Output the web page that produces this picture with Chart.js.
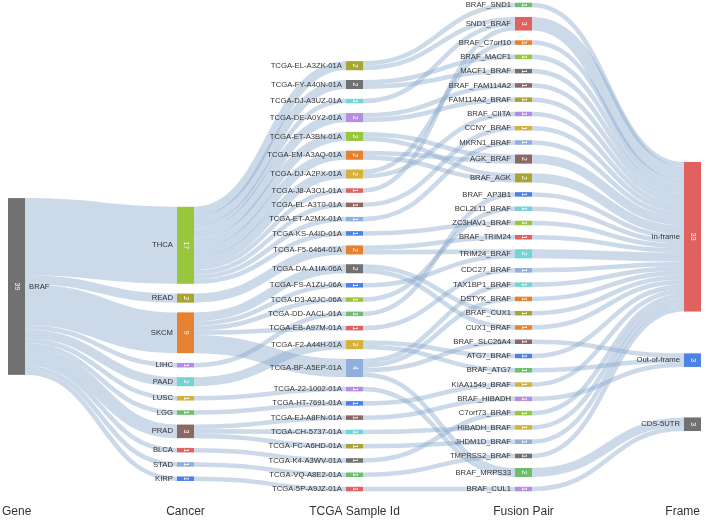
<!DOCTYPE html>
<html>
<head>
<meta charset="utf-8">
<script src="https://cdn.jsdelivr.net/npm/chart.js@4.4.1/dist/chart.umd.min.js"></script>
<style>
  html, body { margin: 0; padding: 0; background: #fff; }
  #wrap { width: 708px; height: 521px; position: relative; }
</style>
</head>
<body>
<div id="wrap"><canvas id="sankey"></canvas></div>
<script>
// colonnes du diagramme
const columnTitles = ['Gene', 'Cancer', 'TCGA Sample Id', 'Fusion Pair', 'Frame'];

const genes = ['BRAF'];
const cancers = ['THCA', 'READ', 'SKCM', 'LIHC', 'PAAD', 'LUSC', 'LGG', 'PRAD', 'BLCA', 'STAD', 'KIRP'];
const cancerCounts = [17, 2, 9, 1, 2, 1, 1, 3, 1, 1, 1];

const samples = [
  'TCGA-EL-A3ZK-01A', 'TCGA-FY-A40N-01A', 'TCGA-DJ-A3UZ-01A', 'TCGA-DE-A0Y2-01A', 'TCGA-ET-A3BN-01A',
  'TCGA-EM-A3AQ-01A', 'TCGA-DJ-A2PX-01A', 'TCGA-J8-A3O1-01A', 'TCGA-EL-A3T0-01A', 'TCGA-ET-A2MX-01A',
  'TCGA-KS-A4ID-01A', 'TCGA-F5-6464-01A', 'TCGA-DA-A1IA-06A', 'TCGA-FS-A1ZU-06A', 'TCGA-D3-A2JC-06A',
  'TCGA-DD-AACL-01A', 'TCGA-EB-A97M-01A', 'TCGA-F2-A44H-01A', 'TCGA-BF-A5EP-01A', 'TCGA-22-1002-01A',
  'TCGA-HT-7691-01A', 'TCGA-EJ-A8FN-01A', 'TCGA-CH-5737-01A', 'TCGA-FC-A6HD-01A', 'TCGA-K4-A3WV-01A',
  'TCGA-VQ-A8E2-01A', 'TCGA-5P-A9JZ-01A'
];
const sampleCancer = [
  'THCA', 'THCA', 'THCA', 'THCA', 'THCA', 'THCA', 'THCA', 'THCA', 'THCA', 'THCA', 'THCA',
  'READ', 'SKCM', 'SKCM', 'SKCM', 'LIHC', 'SKCM', 'PAAD', 'SKCM', 'LUSC', 'LGG',
  'PRAD', 'PRAD', 'PRAD', 'BLCA', 'STAD', 'KIRP'
];
const sampleCounts = [2, 2, 1, 2, 2, 2, 2, 1, 1, 1, 1, 2, 2, 1, 1, 1, 1, 2, 4, 1, 1, 1, 1, 1, 1, 1, 1];

const fusions = [
  'BRAF_SND1', 'SND1_BRAF', 'BRAF_C7orf10', 'BRAF_MACF1', 'MACF1_BRAF', 'BRAF_FAM114A2', 'FAM114A2_BRAF',
  'BRAF_CIITA', 'CCNY_BRAF', 'MKRN1_BRAF', 'AGK_BRAF', 'BRAF_AGK', 'BRAF_AP3B1', 'BCL2L11_BRAF',
  'ZC3HAV1_BRAF', 'BRAF_TRIM24', 'TRIM24_BRAF', 'CDC27_BRAF', 'TAX1BP1_BRAF', 'DSTYK_BRAF', 'BRAF_CUX1',
  'CUX1_BRAF', 'BRAF_SLC26A4', 'ATG7_BRAF', 'BRAF_ATG7', 'KIAA1549_BRAF', 'BRAF_HIBADH', 'C7orf73_BRAF',
  'HIBADH_BRAF', 'JHDM1D_BRAF', 'TMPRSS2_BRAF', 'BRAF_MRPS33', 'BRAF_CUL1'
];
const fusionFrame = [
  'In-frame', 'In-frame', 'In-frame', 'In-frame', 'In-frame', 'In-frame', 'In-frame',
  'In-frame', 'In-frame', 'In-frame', 'In-frame', 'In-frame', 'In-frame', 'In-frame',
  'In-frame', 'In-frame', 'In-frame', 'In-frame', 'In-frame', 'In-frame', 'In-frame',
  'In-frame', 'Out-of-frame', 'In-frame', 'Out-of-frame', 'In-frame', 'Out-of-frame', 'In-frame',
  'In-frame', 'In-frame', 'In-frame', 'CDS-5UTR', 'CDS-5UTR'
];
const fusionCounts = [1, 3, 1, 1, 1, 1, 1, 1, 1, 1, 2, 2, 1, 1, 1, 1, 2, 1, 1, 1, 1, 1, 1, 1, 1, 1, 1, 1, 1, 1, 1, 2, 1];

const frames = ['In-frame', 'Out-of-frame', 'CDS-5UTR'];

// echantillon -> fusion (valeur 1 chacun)
const sampleFusionFrom = [
  'TCGA-EL-A3ZK-01A', 'TCGA-EL-A3ZK-01A', 'TCGA-FY-A40N-01A', 'TCGA-FY-A40N-01A', 'TCGA-DJ-A3UZ-01A',
  'TCGA-DE-A0Y2-01A', 'TCGA-DE-A0Y2-01A', 'TCGA-ET-A3BN-01A', 'TCGA-ET-A3BN-01A', 'TCGA-EM-A3AQ-01A',
  'TCGA-EM-A3AQ-01A', 'TCGA-DJ-A2PX-01A', 'TCGA-DJ-A2PX-01A', 'TCGA-J8-A3O1-01A', 'TCGA-EL-A3T0-01A',
  'TCGA-ET-A2MX-01A', 'TCGA-KS-A4ID-01A', 'TCGA-F5-6464-01A', 'TCGA-F5-6464-01A', 'TCGA-DA-A1IA-06A',
  'TCGA-DA-A1IA-06A', 'TCGA-FS-A1ZU-06A', 'TCGA-D3-A2JC-06A', 'TCGA-DD-AACL-01A', 'TCGA-EB-A97M-01A',
  'TCGA-F2-A44H-01A', 'TCGA-F2-A44H-01A', 'TCGA-BF-A5EP-01A', 'TCGA-BF-A5EP-01A', 'TCGA-BF-A5EP-01A',
  'TCGA-BF-A5EP-01A', 'TCGA-22-1002-01A', 'TCGA-HT-7691-01A', 'TCGA-EJ-A8FN-01A', 'TCGA-CH-5737-01A',
  'TCGA-FC-A6HD-01A', 'TCGA-K4-A3WV-01A', 'TCGA-VQ-A8E2-01A', 'TCGA-5P-A9JZ-01A'
];
const sampleFusionTo = [
  'BRAF_SND1', 'SND1_BRAF', 'BRAF_MACF1', 'MACF1_BRAF', 'SND1_BRAF',
  'BRAF_FAM114A2', 'FAM114A2_BRAF', 'AGK_BRAF', 'BRAF_AGK', 'AGK_BRAF',
  'BRAF_AGK', 'BRAF_C7orf10', 'BRAF_CIITA', 'SND1_BRAF', 'CCNY_BRAF',
  'MKRN1_BRAF', 'ZC3HAV1_BRAF', 'BRAF_TRIM24', 'TRIM24_BRAF', 'BRAF_CUX1',
  'CUX1_BRAF', 'TRIM24_BRAF', 'BCL2L11_BRAF', 'BRAF_AP3B1', 'CDC27_BRAF',
  'ATG7_BRAF', 'BRAF_ATG7', 'TAX1BP1_BRAF', 'DSTYK_BRAF', 'BRAF_SLC26A4',
  'BRAF_MRPS33', 'BRAF_MRPS33', 'KIAA1549_BRAF', 'BRAF_HIBADH', 'HIBADH_BRAF',
  'JHDM1D_BRAF', 'C7orf73_BRAF', 'TMPRSS2_BRAF', 'BRAF_CUL1'
];

// couleurs
const C = {
  gray: '#717171', lime: '#98c73e', olive: '#a9a533', orange: '#e8812f', purple: '#b68de0',
  cyan: '#72d5d5', gold: '#d6b23c', green: '#6dbf6e', brown: '#8c6863', red: '#df6160',
  sky: '#91afdb', blue: '#4d82e5'
};
const nodeColors = {
  'BRAF': C.gray,
  'THCA': C.lime, 'READ': C.olive, 'SKCM': C.orange, 'LIHC': C.purple, 'PAAD': C.cyan, 'LUSC': C.gold,
  'LGG': C.green, 'PRAD': C.brown, 'BLCA': C.red, 'STAD': C.sky, 'KIRP': C.blue,
  'TCGA-EL-A3ZK-01A': C.olive, 'TCGA-FY-A40N-01A': C.gray, 'TCGA-DJ-A3UZ-01A': C.cyan, 'TCGA-DE-A0Y2-01A': C.purple,
  'TCGA-ET-A3BN-01A': C.lime, 'TCGA-EM-A3AQ-01A': C.orange, 'TCGA-DJ-A2PX-01A': C.gold, 'TCGA-J8-A3O1-01A': C.red,
  'TCGA-EL-A3T0-01A': C.brown, 'TCGA-ET-A2MX-01A': C.sky, 'TCGA-KS-A4ID-01A': C.blue, 'TCGA-F5-6464-01A': C.orange,
  'TCGA-DA-A1IA-06A': C.gray, 'TCGA-FS-A1ZU-06A': C.blue, 'TCGA-D3-A2JC-06A': C.lime, 'TCGA-DD-AACL-01A': C.green,
  'TCGA-EB-A97M-01A': C.red, 'TCGA-F2-A44H-01A': C.gold, 'TCGA-BF-A5EP-01A': C.sky, 'TCGA-22-1002-01A': C.purple,
  'TCGA-HT-7691-01A': C.blue, 'TCGA-EJ-A8FN-01A': C.brown, 'TCGA-CH-5737-01A': C.cyan, 'TCGA-FC-A6HD-01A': C.olive,
  'TCGA-K4-A3WV-01A': C.gray, 'TCGA-VQ-A8E2-01A': C.green, 'TCGA-5P-A9JZ-01A': C.red,
  'BRAF_SND1': C.green, 'SND1_BRAF': C.red, 'BRAF_C7orf10': C.orange, 'BRAF_MACF1': C.lime, 'MACF1_BRAF': C.gray,
  'BRAF_FAM114A2': C.brown, 'FAM114A2_BRAF': C.olive, 'BRAF_CIITA': C.purple, 'CCNY_BRAF': C.gold,
  'MKRN1_BRAF': C.sky, 'AGK_BRAF': C.brown, 'BRAF_AGK': C.olive, 'BRAF_AP3B1': C.blue, 'BCL2L11_BRAF': C.cyan,
  'ZC3HAV1_BRAF': C.lime, 'BRAF_TRIM24': C.red, 'TRIM24_BRAF': C.cyan, 'CDC27_BRAF': C.sky, 'TAX1BP1_BRAF': C.cyan,
  'DSTYK_BRAF': C.orange, 'BRAF_CUX1': C.olive, 'CUX1_BRAF': C.orange, 'BRAF_SLC26A4': C.brown, 'ATG7_BRAF': C.blue,
  'BRAF_ATG7': C.green, 'KIAA1549_BRAF': C.gold, 'BRAF_HIBADH': C.purple, 'C7orf73_BRAF': C.lime,
  'HIBADH_BRAF': C.gold, 'JHDM1D_BRAF': C.sky, 'TMPRSS2_BRAF': C.gray, 'BRAF_MRPS33': C.green, 'BRAF_CUL1': C.purple,
  'In-frame': C.red, 'Out-of-frame': C.blue, 'CDS-5UTR': C.gray
};
const linkColor = 'rgba(140, 170, 206, 0.45)';

// ---- construction du graphe ----
const nodes = [];
const byName = {};
[genes, cancers, samples, fusions, frames].forEach((col, layer) => {
  col.forEach(name => {
    const n = { name, layer, sourceLinks: [], targetLinks: [], index: nodes.length };
    nodes.push(n);
    byName[name] = n;
  });
});
const links = [];
function addLink(s, t, v) {
  const l = { source: byName[s], target: byName[t], value: v, index: links.length };
  l.source.sourceLinks.push(l);
  l.target.targetLinks.push(l);
  links.push(l);
}
cancers.forEach((c, i) => addLink(genes[0], c, cancerCounts[i]));
samples.forEach((s, i) => addLink(sampleCancer[i], s, sampleCounts[i]));
sampleFusionFrom.forEach((s, i) => addLink(s, sampleFusionTo[i], 1));
fusions.forEach((f, i) => addLink(f, fusionFrame[i], fusionCounts[i]));

// ---- mise en page (relaxation iterative), en unites de valeur ----
const gap = 2.15;
const iterations = 64;
const columns = [];
nodes.forEach(n => { (columns[n.layer] = columns[n.layer] || []).push(n); });
const maxCol = Math.max(...columns.map(c => c.length));
const total = cancerCounts.reduce((a, b) => a + b, 0);
const H = total + (maxCol - 1) * gap;

function sumV(arr) { return arr.reduce((a, l) => a + l.value, 0); }
nodes.forEach(n => { n.value = Math.max(sumV(n.sourceLinks), sumV(n.targetLinks)); });
const ky = Math.min(...columns.map(c => (H - (c.length - 1) * gap) / c.reduce((a, n) => a + n.value, 0)));
nodes.forEach(n => { n.dy = n.value * ky; });
links.forEach(l => { l.width = l.value * ky; });
columns.forEach(col => col.forEach((n, i) => { n.y = i; }));

const center = n => n.y + n.dy / 2;
function resolveCollisions() {
  columns.forEach(col => {
    let y0 = 0, n;
    for (n of col) {
      const d = y0 - n.y;
      if (d > 0) n.y += d;
      y0 = n.y + n.dy + gap;
    }
    const d = y0 - gap - H;
    if (d > 0) {
      n.y -= d;
      y0 = n.y;
      for (let i = col.length - 2; i >= 0; --i) {
        const m = col[i];
        const e = m.y + m.dy + gap - y0;
        if (e > 0) m.y -= e;
        y0 = m.y;
      }
    }
  });
}
function relaxRightToLeft(alpha) {
  columns.slice().reverse().forEach(col => col.forEach(n => {
    if (!n.sourceLinks.length) return;
    const yy = n.sourceLinks.reduce((a, l) => a + center(l.target) * l.value, 0) / sumV(n.sourceLinks);
    n.y += (yy - center(n)) * alpha;
  }));
}
function relaxLeftToRight(alpha) {
  columns.forEach(col => col.forEach(n => {
    if (!n.targetLinks.length) return;
    const yy = n.targetLinks.reduce((a, l) => a + center(l.source) * l.value, 0) / sumV(n.targetLinks);
    n.y += (yy - center(n)) * alpha;
  }));
}
resolveCollisions();
let alpha = 1;
for (let it = iterations; it > 0; it--) {
  alpha *= 0.99;
  relaxRightToLeft(alpha);
  resolveCollisions();
  relaxLeftToRight(alpha);
  resolveCollisions();
}
nodes.forEach(n => {
  n.y0 = n.y; n.y1 = n.y + n.dy;
  n.sourceLinks.sort((a, b) => a.target.y - b.target.y || a.index - b.index);
  n.targetLinks.sort((a, b) => a.source.y - b.source.y || a.index - b.index);
});
nodes.forEach(n => {
  let a = n.y0, b = n.y0;
  n.sourceLinks.forEach(l => { l.y0 = a + l.width / 2; a += l.width; });
  n.targetLinks.forEach(l => { l.y1 = b + l.width / 2; b += l.width; });
});

// ---- dessin via les echelles de Chart.js ----
const NODE_W = 17;
const FONT = '"Liberation Sans", Arial, sans-serif';

const sankeyPlugin = {
  id: 'sankeyDraw',
  beforeDatasetsDraw(chart) {
    const { ctx, scales: { x, y } } = chart;
    const px = v => x.getPixelForValue(v);
    const pyx = v => y.getPixelForValue(v);
    const unit = Math.abs(pyx(1) - pyx(0));
    ctx.save();
    // liens
    ctx.strokeStyle = linkColor;
    links.forEach(l => {
      const sx = px(l.source.layer) + NODE_W / 2;
      const tx = px(l.target.layer) - NODE_W / 2;
      const sy = pyx(l.y0), ty = pyx(l.y1);
      const mx = (sx + tx) / 2;
      ctx.lineWidth = l.width * unit;
      ctx.beginPath();
      ctx.moveTo(sx, sy);
      ctx.bezierCurveTo(mx, sy, mx, ty, tx, ty);
      ctx.stroke();
    });
    // noeuds
    nodes.forEach(n => {
      const left = px(n.layer) - NODE_W / 2;
      const top = pyx(n.y0), bot = pyx(n.y1);
      ctx.fillStyle = nodeColors[n.name] || '#888';
      ctx.fillRect(left, top, NODE_W, bot - top);
      ctx.save();
      ctx.translate(left + NODE_W / 2, (top + bot) / 2);
      ctx.rotate(Math.PI / 2);
      ctx.fillStyle = '#fff';
      ctx.font = '7px ' + FONT;
      ctx.textAlign = 'center';
      ctx.textBaseline = 'middle';
      ctx.fillText(String(n.value), 0, 0);
      ctx.restore();
      ctx.fillStyle = '#333';
      ctx.font = '7.7px ' + FONT;
      ctx.textBaseline = 'middle';
      if (n.layer === 0) {
        ctx.textAlign = 'left';
        ctx.fillText(n.name, left + NODE_W + 4, (top + bot) / 2);
      } else {
        ctx.textAlign = 'right';
        ctx.fillText(n.name, left - 4, (top + bot) / 2);
      }
    });
    // titres des colonnes
    ctx.font = '12px ' + FONT;
    ctx.fillStyle = '#333';
    ctx.textBaseline = 'alphabetic';
    ctx.textAlign = 'left';
    columnTitles.forEach((t, i) => {
      const w = ctx.measureText(t).width;
      let cx = px(i) - w / 2;
      cx = Math.max(2, Math.min(chart.width - 8 - w, cx));
      ctx.fillText(t, cx, 515);
    });
    ctx.restore();
  }
};

new Chart(document.getElementById('sankey').getContext('2d'), {
  type: 'scatter',
  data: {
    datasets: [{
      label: 'noeuds',
      data: nodes.map(n => ({ x: n.layer, y: (n.y0 + n.y1) / 2 })),
      pointRadius: 0
    }]
  },
  options: {
    responsive: true,
    maintainAspectRatio: false,
    animation: false,
    layout: { padding: { left: 16.5, right: 15.5, top: 2.7, bottom: 29.7 } },
    scales: {
      x: { type: 'linear', min: 0, max: 4, display: false },
      y: { type: 'linear', min: 0, max: H, reverse: true, display: false }
    },
    plugins: { legend: { display: false }, tooltip: { enabled: false } }
  },
  plugins: [sankeyPlugin]
});
</script>
</body>
</html>
